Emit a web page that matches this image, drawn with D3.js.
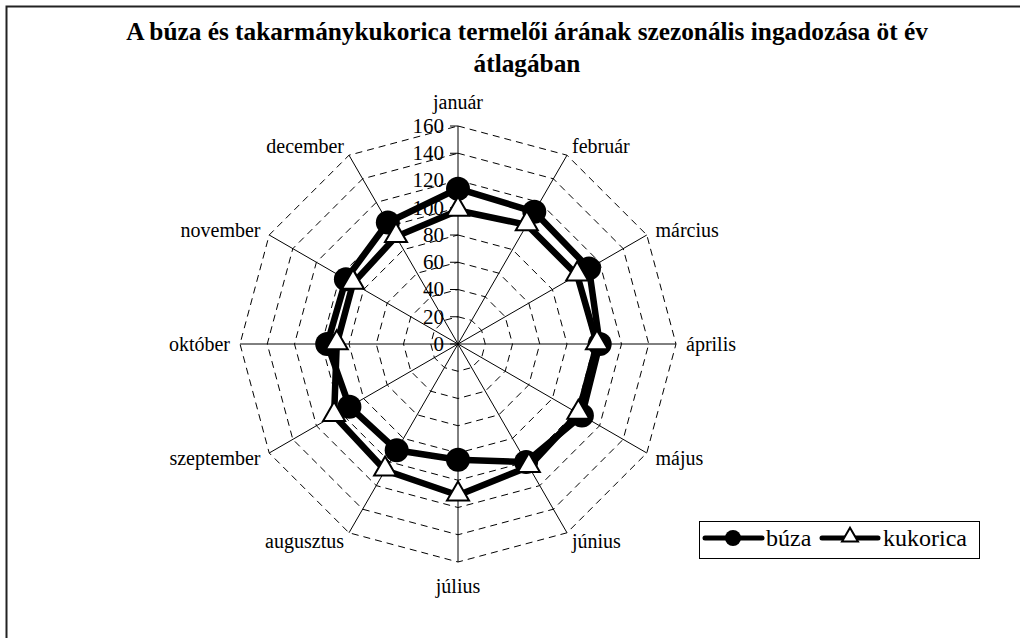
<!DOCTYPE html>
<html>
<head>
<meta charset="utf-8">
<script src="https://cdn.jsdelivr.net/npm/d3@7"></script>
<style>
  body { margin: 0; background: #fff; }
  svg { display: block; font-family: "Liberation Serif", "Times New Roman", serif; }
</style>
</head>
<body>
<script>
var width = 1020, height = 638;

var months = ["január", "február", "március", "április", "május", "június",
  "július", "augusztus", "szeptember", "október", "november", "december"];
var buza = [114, 112, 111, 104, 105, 100, 85, 90, 92, 96, 95, 103];
var kukorica = [98, 101, 101, 102, 102, 104, 111, 107, 105, 89, 89, 91];
var ticks = [0, 20, 40, 60, 80, 100, 120, 140, 160];
var titleLines = ["A búza és takarmánykukorica termelői árának szezonális ingadozása öt év", "átlagában"];

var cx = 458, cy = 344, R = 218;

var svg = d3.select("body").append("svg")
  .attr("width", width)
  .attr("height", height);

// chart area border (runs past the right and bottom edges)
svg.append("rect")
  .attr("x", 6.5).attr("y", 6.5)
  .attr("width", 1040).attr("height", 660)
  .attr("fill", "none")
  .attr("stroke", "#222")
  .attr("stroke-width", 2);

svg.selectAll(".title")
  .data(titleLines)
  .enter().append("text")
  .attr("class", "title")
  .attr("x", 527)
  .attr("y", function(d, i) { return 40 + i * 32; })
  .attr("text-anchor", "middle")
  .attr("font-size", 25.3)
  .attr("font-weight", "bold")
  .text(function(d) { return d; });

var r = d3.scaleLinear().domain([0, 160]).range([0, R]);
var angle = d3.scalePoint().domain(d3.range(months.length)).range([0, 2 * Math.PI * 11 / 12]);

function px(i, v) { return cx + r(v) * Math.sin(angle(i)); }
function py(i, v) { return cy - r(v) * Math.cos(angle(i)); }

var g = svg.append("g");

// dashed rings
var ring = d3.line().x(function(d) { return d[0]; }).y(function(d) { return d[1]; }).curve(d3.curveLinearClosed);
g.selectAll(".ring")
  .data(ticks.slice(1))
  .enter().append("path")
  .attr("class", "ring")
  .attr("d", function(v) {
    return ring(months.map(function(m, i) { return [px(i, v), py(i, v)]; }));
  })
  .attr("fill", "none")
  .attr("stroke", "#000")
  .attr("stroke-width", 1)
  .attr("stroke-dasharray", "7,5");

// spokes
g.selectAll(".spoke")
  .data(months)
  .enter().append("line")
  .attr("x1", cx).attr("y1", cy)
  .attr("x2", function(d, i) { return px(i, 160); })
  .attr("y2", function(d, i) { return py(i, 160); })
  .attr("stroke", "#000")
  .attr("stroke-width", 1);

// value axis ticks + labels on the january spoke
g.selectAll(".tick")
  .data(ticks)
  .enter().append("line")
  .attr("x1", cx - 8).attr("x2", cx)
  .attr("y1", function(d) { return cy - r(d); })
  .attr("y2", function(d) { return cy - r(d); })
  .attr("stroke", "#000");

g.selectAll(".tlabel")
  .data(ticks)
  .enter().append("text")
  .attr("x", cx - 14)
  .attr("y", function(d) { return cy - r(d); })
  .attr("dy", "0.33em")
  .attr("text-anchor", "end")
  .attr("font-size", 21)
  .text(function(d) { return d; });

// month labels
g.selectAll(".mlabel")
  .data(months)
  .enter().append("text")
  .attr("x", function(d, i) {
    var s = Math.sin(angle(i));
    return cx + (R + (Math.abs(s) < 0.01 ? 0 : 10)) * s;
  })
  .attr("y", function(d, i) {
    var c = Math.cos(angle(i));
    var off = Math.abs(Math.sin(angle(i))) < 0.01 ? 24 : 10;
    return cy - (R + off) * c;
  })
  .attr("dy", "0.33em")
  .attr("text-anchor", function(d, i) {
    var s = Math.sin(angle(i));
    return Math.abs(s) < 0.01 ? "middle" : (s > 0 ? "start" : "end");
  })
  .attr("font-size", 20)
  .text(function(d) { return d; });

var path = d3.line()
  .x(function(d, i) { return px(i, d); })
  .y(function(d, i) { return py(i, d); })
  .curve(d3.curveLinearClosed);

[buza, kukorica].forEach(function(series) {
  g.append("path")
    .attr("d", path(series))
    .attr("fill", "none")
    .attr("stroke", "#000")
    .attr("stroke-width", 6.5)
    .attr("stroke-linejoin", "round");
});

var triSym = d3.symbol().type(d3.symbolTriangle);

g.selectAll(".buza")
  .data(buza)
  .enter().append("circle")
  .attr("cx", function(d, i) { return px(i, d); })
  .attr("cy", function(d, i) { return py(i, d); })
  .attr("r", 12)
  .attr("fill", "#000");

g.selectAll(".kuk")
  .data(kukorica)
  .enter().append("path")
  .attr("d", triSym.size(210))
  .attr("transform", function(d, i) { return "translate(" + px(i, d) + "," + (py(i, d) - 1) + ")"; })
  .attr("fill", "#fff")
  .attr("stroke", "#000")
  .attr("stroke-width", 2);

// legend
var leg = svg.append("g");
leg.append("rect")
  .attr("x", 699.5).attr("y", 521.5)
  .attr("width", 280).attr("height", 37)
  .attr("fill", "#fff")
  .attr("stroke", "#000");

leg.append("line")
  .attr("x1", 705).attr("x2", 762).attr("y1", 538).attr("y2", 538)
  .attr("stroke", "#000").attr("stroke-width", 5).attr("stroke-linecap", "round");
leg.append("circle").attr("cx", 733).attr("cy", 538).attr("r", 8).attr("fill", "#000");
leg.append("text").attr("x", 766).attr("y", 546).attr("font-size", 24).text("búza");

leg.append("line")
  .attr("x1", 822).attr("x2", 878).attr("y1", 538).attr("y2", 538)
  .attr("stroke", "#000").attr("stroke-width", 5).attr("stroke-linecap", "round");
leg.append("path")
  .attr("d", triSym.size(110))
  .attr("transform", "translate(850,537)")
  .attr("fill", "#fff").attr("stroke", "#000").attr("stroke-width", 2);
leg.append("text").attr("x", 883).attr("y", 546).attr("font-size", 24).text("kukorica");
</script>
</body>
</html>
